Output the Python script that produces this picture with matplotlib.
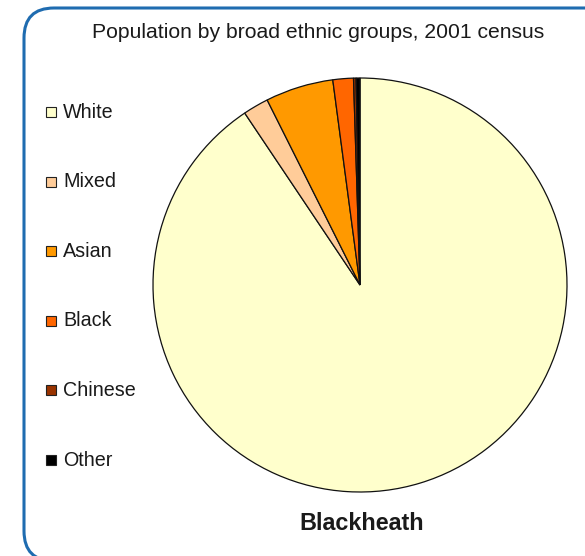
import matplotlib.pyplot as plt
from matplotlib.patches import FancyBboxPatch, Rectangle

plt.rcParams['font.family'] = ['Liberation Sans', 'DejaVu Sans']

groups = ['White', 'Mixed', 'Asian', 'Black', 'Chinese', 'Other']
shares = [90.6, 2.0, 5.3, 1.6, 0.2, 0.3]
colors = ['#FFFFCC', '#FFCC99', '#FF9900', '#FF6600', '#993300', '#000000']
title = 'Population by broad ethnic groups, 2001 census'
area = 'Blackheath'

W, H = 585, 556
fig = plt.figure(figsize=(W / 100, H / 100), dpi=100)

# background layer in pixel coordinates (frame, title, legend)
bg = fig.add_axes([0, 0, 1, 1])
bg.set_xlim(0, W)
bg.set_ylim(H, 0)
bg.axis('off')
bg.add_patch(FancyBboxPatch((24, 8), 700, 553,
                            boxstyle='round,pad=0,rounding_size=30',
                            facecolor='white', edgecolor='#1F6CB0', linewidth=2.2))
bg.text(318, 33, title, ha='center', va='center', fontsize=15.2, color='#1a1a1a')
bg.text(362, 523, area, ha='center', va='center', fontsize=16.8,
        fontweight='bold', color='#1a1a1a')

for i, (label, col) in enumerate(zip(groups, colors)):
    y = 112 + i * 69.6
    bg.add_patch(Rectangle((46, y - 5), 10, 10, facecolor=col,
                           edgecolor='#222222', linewidth=0.8))
    bg.text(63, y, label, ha='left', va='center', fontsize=14.2, color='#1a1a1a')

# pie
cx, cy, r = 360, 285, 207
ax = fig.add_axes([(cx - r) / W, (H - cy - r) / H, 2 * r / W, 2 * r / H])
ax.pie(shares, colors=colors, startangle=90, counterclock=False,
       wedgeprops={'edgecolor': '#111111', 'linewidth': 0.9})
ax.set_xlim(-1, 1)
ax.set_ylim(-1, 1)
ax.axis('off')

fig.savefig('out.png', dpi=100)
